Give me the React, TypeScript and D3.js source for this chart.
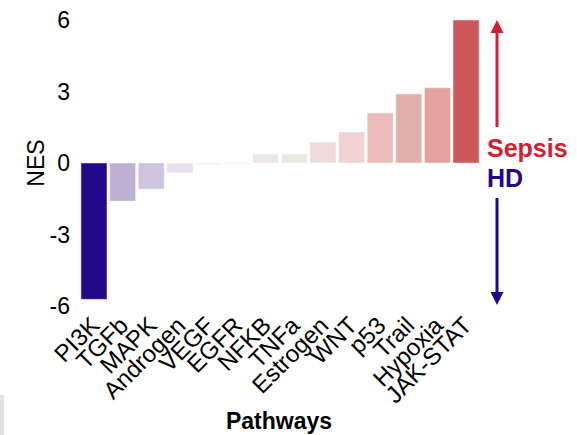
import React, {useEffect} from "react";
import * as d3 from "d3";

const pathways = ["PI3K", "TGFb", "MAPK", "Androgen", "VEGF", "EGFR", "NFKB", "TNFa",
    "Estrogen", "WNT", "p53", "Trail", "Hypoxia", "JAK-STAT"];
const nes = [-5.72, -1.6, -1.1, -0.42, -0.05, -0.04, 0.38, 0.38, 0.88, 1.3, 2.1, 2.9, 3.16, 6.0];
const yTicks = [-6, -3, 0, 3, 6];

const barColors = ["#22098a", "#bfb0d4", "#cfc3df", "#e5e0ea", "#ece9ef", "#ece9ef", "#ede6e6",
    "#ebe7e1", "#ecdcdc", "#efd3d4", "#ebbcbb", "#e2b0ab", "#e5a19e", "#cc585b"];

const W = 577;
const H = 435;
const red = "#d41e33";
const blue = "#22098a";
const font = "'Liberation Sans', Arial, Helvetica, sans-serif";

const App = () => {
    useEffect(() => {
        document.body.style.margin = "0";
    }, []);

    let x = d3.scaleBand().domain(pathways).range([79.5, 480.5]).paddingInner(0.09).paddingOuter(0.05);
    let y = d3.scaleLinear().domain([-6, 6]).range([306, 20]);
    let color = d3.scaleOrdinal<string, string>().domain(pathways).range(barColors);

    const arrowX = 497;

    return (
        <svg width={W} height={H} style={{display: "block", fontFamily: font}}>
            <rect x={0} y={395} width={4} height={40} fill="#e2e2e2"/>
            <g>
                {pathways.map((p, i) => {
                    let v = nes[i];
                    let top = y(Math.max(0, v));
                    let h = Math.max(1, Math.abs(y(v) - y(0)));
                    return <rect key={p} x={x(p)} y={top} width={x.bandwidth()} height={h}
                                 fill={color(p)} stroke="#ffffff" strokeOpacity={0.45} strokeWidth={1}/>;
                })}
            </g>
            <g>
                {yTicks.map(t => (
                    <text key={t} x={70} y={y(t)} dy="0.36em" textAnchor="end" fontSize={23} fill="#000">{t}</text>
                ))}
            </g>
            <text transform={`translate(44,${y(0)}) rotate(-90)`} textAnchor="middle" fontSize={23} fill="#000">NES</text>
            <g>
                {pathways.map(p => {
                    let cx = x(p)! + x.bandwidth() / 2 + 7;
                    return <text key={p} transform={`translate(${cx},327) rotate(-45)`} textAnchor="end"
                                 fontSize={24} fill="#000">{p}</text>;
                })}
            </g>
            <text x={279} y={429} textAnchor="middle" fontSize={23} fontWeight="bold" fill="#000">Pathways</text>

            <line x1={arrowX} x2={arrowX} y1={127} y2={31} stroke={red} strokeWidth={3}/>
            <path d={`M${arrowX},20 L${arrowX - 6.5},33 L${arrowX + 6.5},33 Z`} fill={red}/>
            <line x1={arrowX} x2={arrowX} y1={198} y2={294} stroke={blue} strokeWidth={3}/>
            <path d={`M${arrowX},305 L${arrowX - 6.5},292 L${arrowX + 6.5},292 Z`} fill={blue}/>
            <text x={487} y={157} fontSize={25} fontWeight="bold" fill={red}>Sepsis</text>
            <text x={487} y={187} fontSize={25} fontWeight="bold" fill={blue}>HD</text>
        </svg>
    );
};

export default App;
